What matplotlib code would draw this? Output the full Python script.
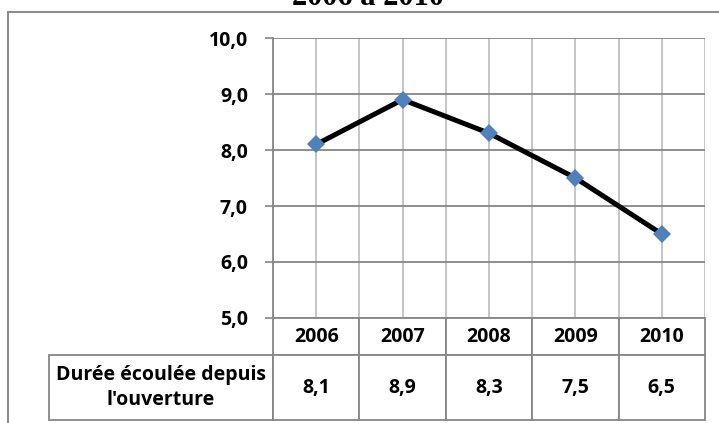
import matplotlib
matplotlib.use('Agg')
import matplotlib.pyplot as plt
from matplotlib.patches import Rectangle

years = ['2006', '2007', '2008', '2009', '2010']
values = [8.1, 8.9, 8.3, 7.5, 6.5]
labels = ['8,1', '8,9', '8,3', '7,5', '6,5']
row_label = "Durée écoulée depuis\nl'ouverture"
title = '2006 à 2010'

plt.rcParams['font.family'] = ['Open Sans', 'DejaVu Sans']

fig = plt.figure(figsize=(7.19, 4.23), dpi=100)
ax = fig.add_axes([273 / 719, 1 - 318 / 423, 432 / 719, 280 / 423])

x = list(range(len(years)))
ax.plot(x, values, color='black', linewidth=3.6, zorder=3,
        marker='D', markersize=8.8, markerfacecolor='#4F81BD',
        markeredgewidth=0, solid_capstyle='round')

ax.set_xlim(-0.5, len(years) - 0.5)
ax.set_ylim(5, 10)
ax.set_yticks([5, 6, 7, 8, 9, 10])
ax.set_yticklabels(['5,0', '6,0', '7,0', '8,0', '9,0', '10,0'],
                   fontsize=14, fontweight='bold')
ax.set_xticks([i * 0.5 - 0.5 for i in range(2 * len(years) + 1)])
ax.tick_params(axis='x', length=0, labelbottom=False)
ax.tick_params(axis='y', length=6, width=1.2, color='#868686', pad=12)

ax.grid(axis='y', color='#868686', linewidth=1.3)
ax.grid(axis='x', color='#C0C0C0', linewidth=1.3)
ax.set_axisbelow(True)
for s in ['top', 'right', 'bottom']:
    ax.spines[s].set_visible(False)
ax.spines['left'].set_color('#868686')
ax.spines['left'].set_linewidth(1.3)

# tableau de données sous le graphique (1re colonne = libellé de la série)
lw = 224 / 432
tab = ax.table(cellText=[[row_label] + labels], colLabels=[''] + years,
               cellLoc='center', bbox=[-lw, -102 / 280, 1 + lw, 102 / 280])
tab.auto_set_font_size(False)
tab.set_fontsize(14)
for (r, c), cell in tab.get_celld().items():
    cell.set_edgecolor('#868686')
    cell.set_linewidth(1.3)
    cell.get_text().set_fontweight('bold')
    cell.set_width(lw if c == 0 else 0.2)
    cell.set_height(37 if r == 0 else 65)
    if c == 0:
        cell.get_text().set_multialignment('center')
        cell.get_text().set_linespacing(1.35)
tab[0, 0].visible_edges = ''

# cadre du graphique et titre coupé
fig.patches.append(Rectangle((8 / 719, -0.1), 1.2, 1 - 12 / 423 + 0.1,
                             transform=fig.transFigure, fill=False,
                             edgecolor='#8C8C8C', linewidth=1.5))
fig.text(368 / 719, 1 - 5 / 423, title, ha='center', va='baseline',
         fontsize=22, fontweight='bold', family='Liberation Serif')

fig.savefig('out.png', dpi=100)
